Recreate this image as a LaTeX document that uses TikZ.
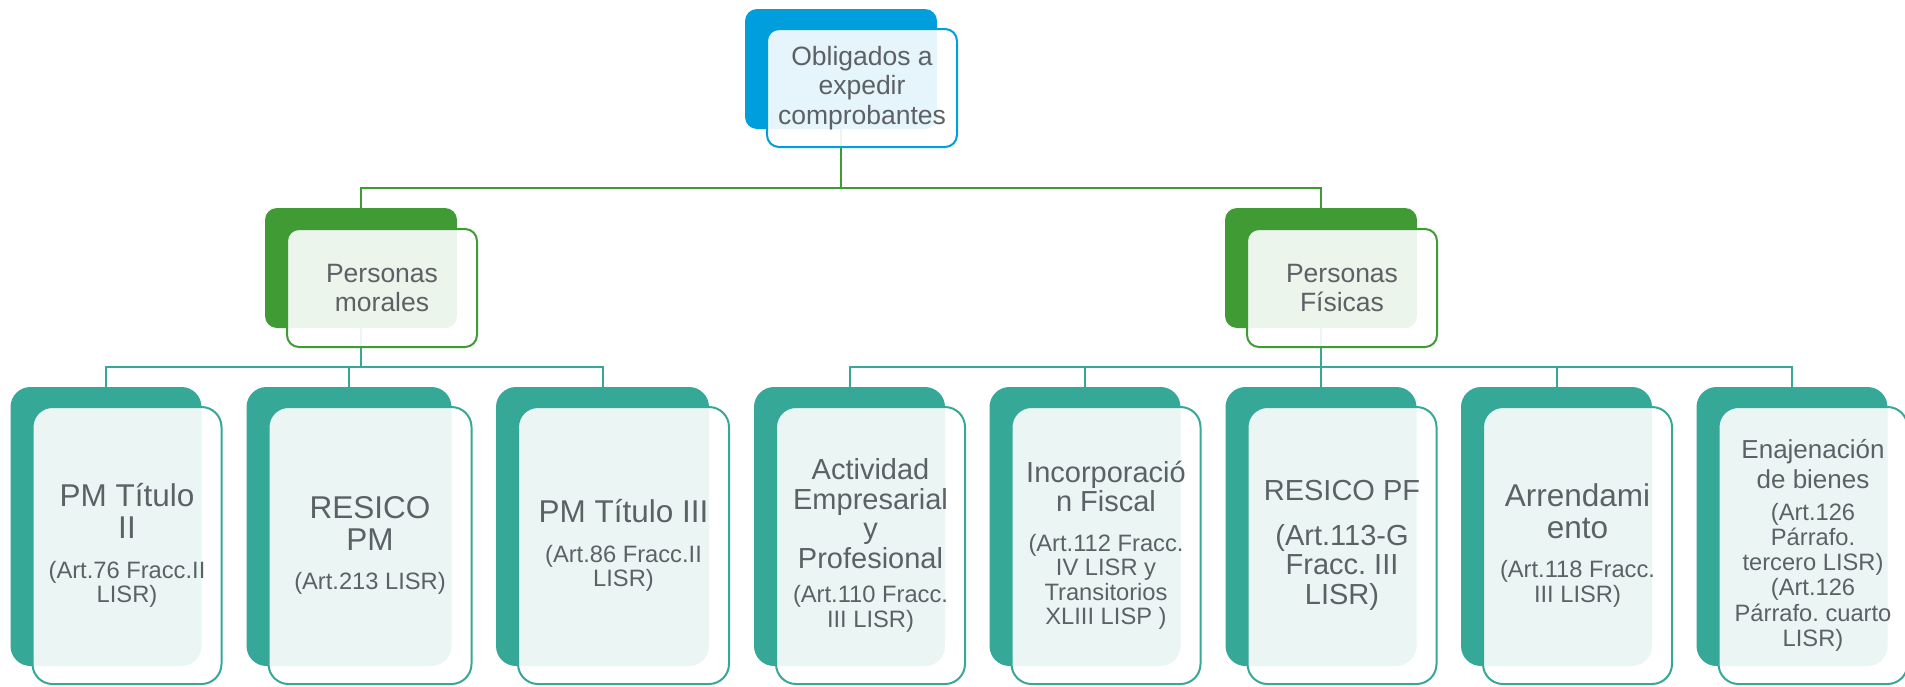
\documentclass[tikz,border=0pt]{standalone}
\usepackage{fontspec}
\setmainfont{Liberation Sans}
\frenchspacing
\definecolor{azul}{RGB}{0,158,220}
\definecolor{verde}{RGB}{64,155,53}
\definecolor{verdeazul}{RGB}{54,168,152}
\definecolor{texto}{RGB}{92,97,102}
\newcommand{\txtgrande}[1]{{\fontsize{31.5}{32}\selectfont\spaceskip=0pt\xspaceskip=0pt #1\par}}
\newcommand{\txtmedio}[1]{{\fontsize{29}{29.5}\selectfont\spaceskip=0pt\xspaceskip=0pt #1\par}}
\newcommand{\txtmenor}[1]{{\fontsize{26}{30}\selectfont\spaceskip=0pt\xspaceskip=0pt #1\par}}
\newcommand{\txtchico}[1]{{\fontsize{23.7}{24.5}\selectfont\spaceskip=0pt\xspaceskip=0pt #1\par}}
\newcommand{\saltopar}{\vspace{15pt}}

\begin{document}
\begin{tikzpicture}[x=1pt,y=-1pt,
  trasera/.style={rectangle,rounded corners=12pt,fill=#1,minimum width=192pt,minimum height=120pt,inner sep=0pt},
  frente/.style={rectangle,rounded corners=12pt,draw=#1,line width=2pt,fill=white,fill opacity=0.9,text opacity=1,
    text=texto,minimum width=190pt,minimum height=118pt,text width=180pt,align=flush center,inner sep=0pt,
    font=\fontsize{26.5}{29.5}\selectfont},
  hojatras/.style={rectangle,rounded corners=20pt,fill=verdeazul,minimum width=191pt,minimum height=279pt,inner sep=0pt},
  hoja/.style={rectangle,rounded corners=20pt,draw=verdeazul,line width=2pt,fill=white,fill opacity=0.9,text opacity=1,
    text=texto,minimum width=189pt,minimum height=277pt,text width=185pt,align=flush center,inner sep=0pt},
  linea/.style={draw=#1,line width=2pt}]
\useasboundingbox (0,0) rectangle (1905,686);

% cajas de fondo
\node[trasera=azul] (oblig-b) at (841,69) {};
\node[trasera=verde] (pmor-b) at (361,268) {};
\node[trasera=verde] (pfis-b) at (1321,268) {};

\node[hojatras] (t2-b) at (106,526.5) {};
\node[hojatras,minimum width=205pt] (rpm-b) at (349,526.5) {};
\node[hojatras,minimum width=213pt] (t3-b) at (602.5,526.5) {};
\node[hojatras] (aep-b) at (849.5,526.5) {};
\node[hojatras] (rif-b) at (1085,526.5) {};
\node[hojatras] (rpf-b) at (1321,526.5) {};
\node[hojatras] (arr-b) at (1556.5,526.5) {};
\node[hojatras] (ena-b) at (1792,526.5) {};

% conectores
\coordinate (bus0) at (0,188);
\coordinate (bus1) at (0,367);
\draw[linea=verde] (oblig-b.south) -- (oblig-b.south |- bus0) -| (pmor-b.north);
\draw[linea=verde] (oblig-b.south |- bus0) -| (pfis-b.north);
\foreach \h in {t2,rpm,t3}
  \draw[linea=verdeazul] (pmor-b.south) -- (pmor-b.south |- bus1) -| (\h-b.north);
\foreach \h in {aep,rif,rpf,arr,ena}
  \draw[linea=verdeazul] (pfis-b.south) -- (pfis-b.south |- bus1) -| (\h-b.north);

% cajas de texto
\node[frente=azul] (oblig) at (862,88) {Obligados a\\expedir\\comprobantes};
\node[frente=verde] (pmor) at (382,288) {Personas\\morales};
\node[frente=verde] (pfis) at (1342,288) {Personas\\Físicas};

\node[hoja] (t2) at (127,545.5) {\txtgrande{PM Título\\II}\saltopar\txtchico{(Art.76 Fracc.II\\LISR)}};
\node[hoja,minimum width=203pt] (rpm) at (370,545.5) {\txtgrande{RESICO\\PM}\saltopar\txtchico{(Art.213 LISR)}};
\node[hoja,minimum width=211pt] (t3) at (623.5,545.5) {\txtgrande{PM Título III}\saltopar\txtchico{(Art.86 Fracc.II\\LISR)}};
\node[hoja] (aep) at (870.5,545.5) {\txtmedio{Actividad\\Empresarial\\y\\Profesional}\vspace{10pt}\txtchico{(Art.110 Fracc.\\III LISR)}};
\node[hoja] (rif) at (1106,545.5) {\txtmedio{Incorporació\\n Fiscal}\saltopar\txtchico{(Art.112 Fracc.\\IV LISR y\\Transitorios\\XLIII LISP )}};
\node[hoja] (rpf) at (1342,545.5) {\txtmedio{RESICO PF}\saltopar\txtmedio{(Art.113-G\\Fracc. III\\LISR)}};
\node[hoja] (arr) at (1577.5,545.5) {\txtgrande{Arrendami\\ento}\saltopar\txtchico{(Art.118 Fracc.\\III LISR)}};
\node[hoja] (ena) at (1813,545.5) {\txtmenor{Enajenación\\de bienes}\vspace{6pt}{\fontsize{23.7}{25.3}\selectfont\spaceskip=0pt\xspaceskip=0pt (Art.126\\Párrafo.\\tercero LISR)\\(Art.126\\Párrafo. cuarto\\LISR)\par}};

\end{tikzpicture}
\end{document}
